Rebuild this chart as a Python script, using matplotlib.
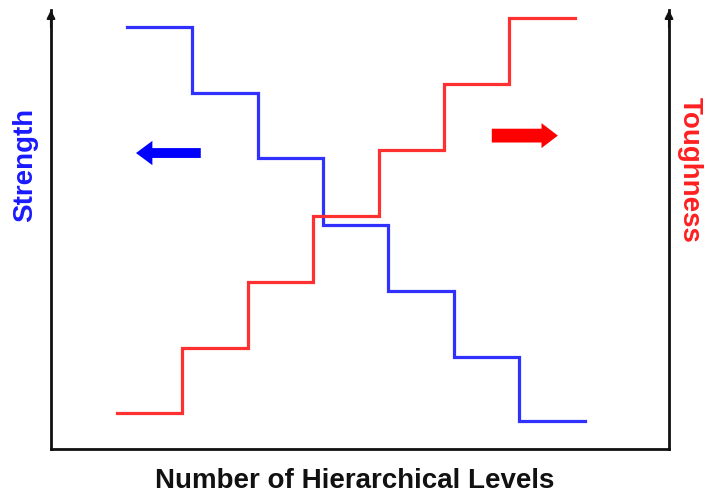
import numpy as np
import matplotlib
matplotlib.use("Agg")
import matplotlib.pyplot as plt
from matplotlib.patches import FancyArrow

plt.rcParams['font.family'] = ['Liberation Sans', 'DejaVu Sans']

# Data (arbitrary units)
level_edges = np.arange(8)          # step boundaries for 7 hierarchical levels
strength = [6.42, 5.42, 4.43, 3.41, 2.40, 1.40, 0.43]
toughness = [0.55, 1.54, 2.54, 3.55, 4.55, 5.56, 6.56]

blue_line = '#3030ff'
red_line = '#ff3030'

fig = plt.figure(figsize=(7.05, 4.94), dpi=100)
ax = fig.add_axes([51/705, 1-449/494, 618/705, 439/494])
ax.set_xlim(0, 618/65.4)
ax.set_ylim(0, 439/65.7)

ax.step(level_edges + 1.16, strength + [strength[-1]], where='post',
        color=blue_line, lw=2.3, solid_joinstyle='miter')
ax.step(level_edges + 1.01, toughness + [toughness[-1]], where='post',
        color=red_line, lw=2.3, solid_joinstyle='miter')

# big direction arrows
ax.add_patch(FancyArrow(2.29, 4.505, -0.99, 0, width=0.15, head_width=0.37,
                        head_length=0.25, length_includes_head=True,
                        color='#0000ff', lw=0))
ax.add_patch(FancyArrow(6.74, 4.77, 1.01, 0, width=0.21, head_width=0.38,
                        head_length=0.25, length_includes_head=True,
                        color='#ff0000', lw=0))

# spines
ax.spines['top'].set_visible(False)
for s in ['left', 'right', 'bottom']:
    ax.spines[s].set_linewidth(2)
    ax.spines[s].set_color('#111111')
ax.set_xticks([])
ax.set_yticks([])

# arrowheads at top of vertical axes
for xf in (0, 1):
    ax.annotate('', xy=(xf, 1.0), xytext=(xf, 0.96), xycoords='axes fraction',
                arrowprops=dict(arrowstyle='-|>', color='#111111', lw=1.5,
                                mutation_scale=12, shrinkA=0, shrinkB=0),
                annotation_clip=False)

fig.text(25/705, 1-165/494, 'Strength', rotation=90, color='#1a1aff',
         fontsize=20, fontweight='bold', ha='center', va='center')
fig.text(690/705, 1-170/494, 'Toughness', rotation=270, color='#ff2020',
         fontsize=20, fontweight='bold', ha='center', va='center')
fig.text(355/705, 1-481/494, 'Number of Hierarchical Levels', color='#111111',
         fontsize=20, fontweight='bold', ha='center', va='center')

fig.savefig('out.png', dpi=100)
